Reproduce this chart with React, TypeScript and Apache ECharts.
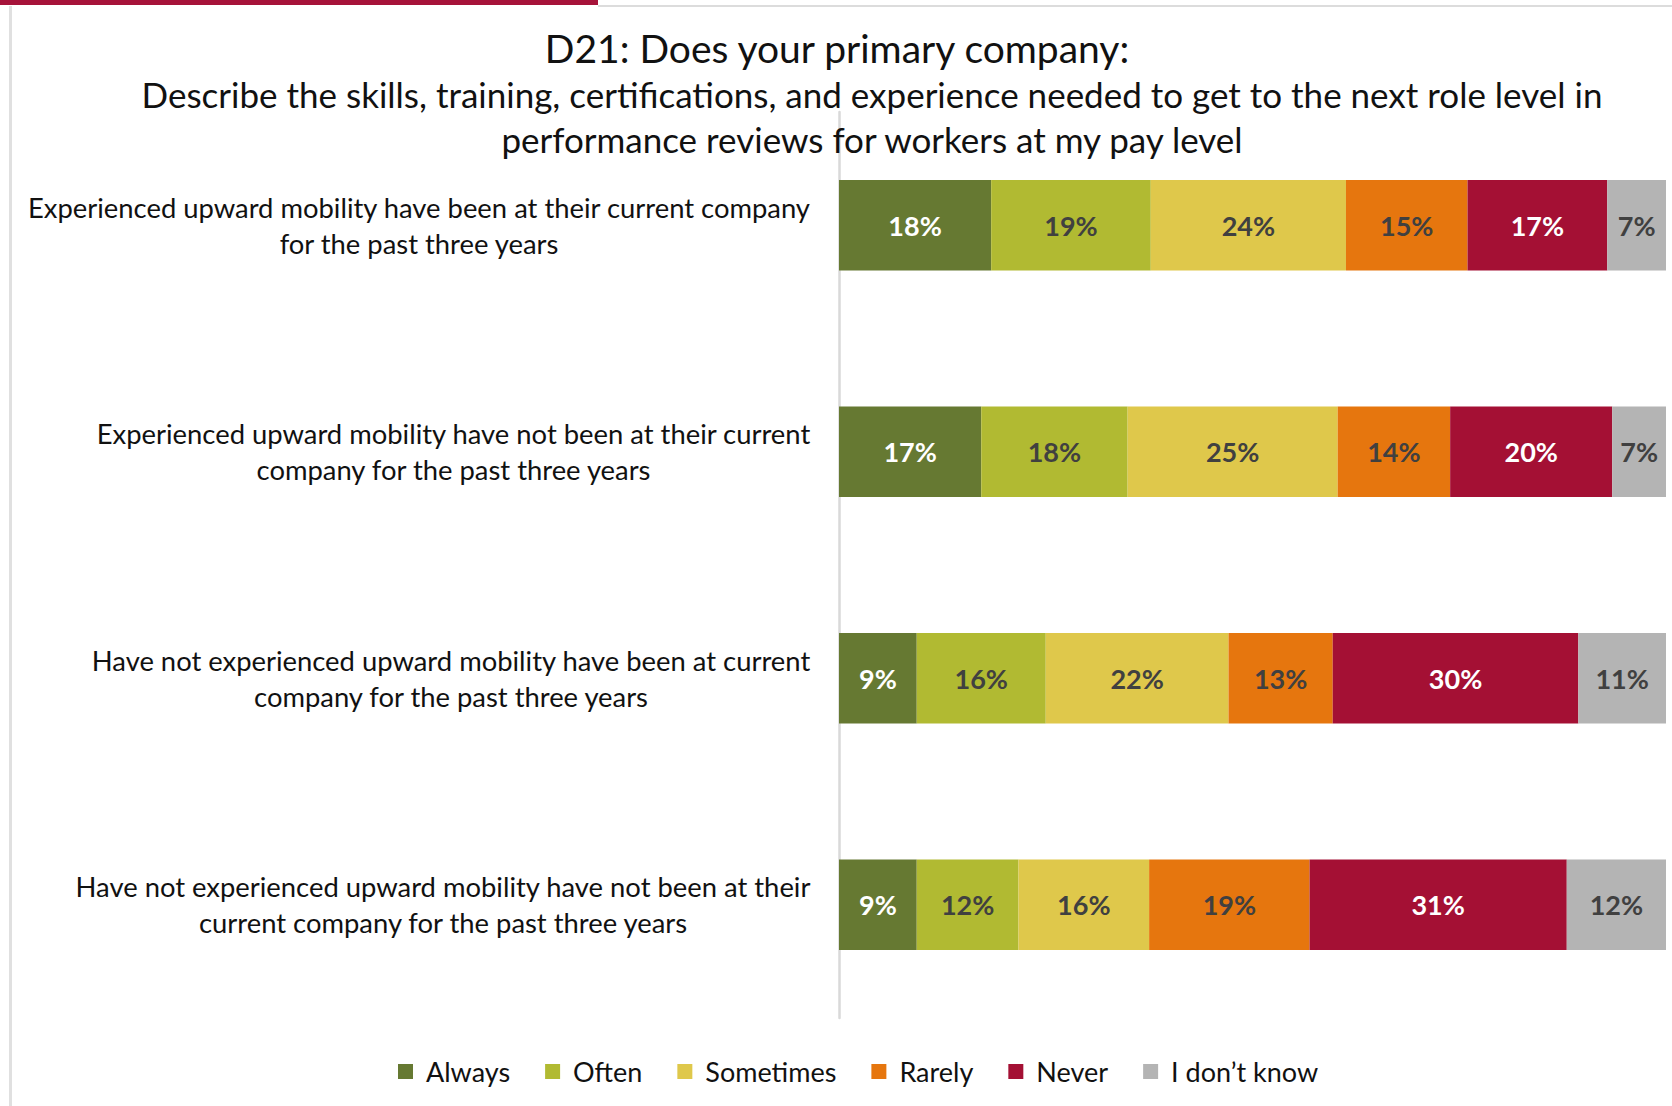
import React, { useEffect, useRef } from 'react';
import * as echarts from 'echarts';

const categories = [
  'Experienced upward mobility have been at their current company\nfor the past three years',
  'Experienced upward mobility have not been at their current\ncompany for the past three years',
  'Have not experienced upward mobility have been at current\ncompany for the past three years',
  'Have not experienced upward mobility have not been at their\ncurrent company for the past three years',
];
const seriesNames = ['Always', 'Often', 'Sometimes', 'Rarely', 'Never', 'I don\u2019t know'];
const always = [18.4, 17.2, 9.4, 9.4];
const often = [19.3, 17.7, 15.6, 12.3];
const sometimes = [23.6, 25.4, 22.1, 15.8];
const rarely = [14.7, 13.6, 12.6, 19.4];
const never = [16.9, 19.6, 29.7, 31.1];
const dontKnow = [7.1, 6.5, 10.6, 12.0];
const seriesValues = [always, often, sometimes, rarely, never, dontKnow];

const colors = ['#667932', '#B1BA32', '#DFC84B', '#E6760E', '#A41034', '#B4B4B4'];
const labelColors = ['#ffffff', '#404040', '#404040', '#404040', '#ffffff', '#404040'];

const titleText = 'D21: Does your primary company:';
const subtitleText =
  'Describe the skills, training, certifications, and experience needed to get to the next role level in\nperformance reviews for workers at my pay level';

export default function App() {
  const ref = useRef<HTMLDivElement>(null);
  useEffect(() => {
    document.body.style.margin = '0';
    const chart = echarts.init(ref.current!, null, { renderer: 'svg' });
    const fontFamily = 'Lato';
    const catFont = 27.4;
    const ctx = document.createElement('canvas').getContext('2d')!;
    ctx.font = `${catFont}px ${fontFamily}`;
    const rich: any = {};
    categories.forEach((c, i) => {
      const w = Math.max(...c.split('\n').map((l) => ctx.measureText(l).width));
      rich['c' + i] = {
        width: Math.ceil(w) + 2,
        align: 'center',
        fontSize: catFont,
        fontFamily,
        color: '#111111',
        lineHeight: 36,
      };
    });

    chart.setOption({
      animation: false,
      backgroundColor: '#ffffff',
      title: [
        {
          text: titleText,
          left: 837,
          top: 26,
          textAlign: 'center',
          padding: 0,
          textStyle: { fontFamily, fontSize: 39, fontWeight: 'normal', color: '#111111', lineHeight: 44 },
        },
        {
          text: subtitleText,
          left: 872,
          top: 71,
          textAlign: 'center',
          padding: 0,
          textStyle: { fontFamily, fontSize: 35, fontWeight: 'normal', color: '#111111', lineHeight: 45 },
        },
      ],
      graphic: [
        { type: 'rect', shape: { x: 0, y: 0, width: 598, height: 5 }, style: { fill: '#A6133A' }, z: 10 },
        { type: 'rect', shape: { x: 598, y: 5, width: 1074, height: 2 }, style: { fill: '#dcdcdc' }, z: 10 },
        { type: 'rect', shape: { x: 9, y: 6, width: 3, height: 1100 }, style: { fill: '#e0e0e0' }, z: 10 },
      ],
      legend: {
        left: 398,
        top: 1058,
        padding: 0,
        icon: 'rect',
        itemWidth: 15,
        itemHeight: 15,
        itemGap: 35,
        textStyle: { fontFamily, fontSize: 27, color: '#111111', padding: [0, 0, 0, 8] },
        data: seriesNames,
      },
      grid: { left: 839, right: 6, top: 112, bottom: 88, containLabel: false },
      xAxis: { type: 'value', min: 0, max: 100, show: false },
      yAxis: {
        type: 'category',
        inverse: true,
        data: categories,
        axisLine: { show: true, lineStyle: { color: '#d9d9d9', width: 2.5 } },
        axisTick: { show: false },
        axisLabel: {
          margin: 27,
          align: 'right',
          formatter: (value: string, index: number) =>
            value
              .split('\n')
              .map((l) => `{c${index}|${l}}`)
              .join('\n'),
          rich,
        },
      },
      series: seriesNames.map((name, i) => ({
        name,
        type: 'bar',
        stack: 'total',
        barCategoryGap: '60%',
        data: seriesValues[i],
        itemStyle: { color: colors[i] },
        label: {
          show: true,
          position: 'inside',
          formatter: (p: any) => Math.round(p.value) + '%',
          fontFamily,
          fontSize: 27,
          fontWeight: 'bold',
          color: labelColors[i],
        },
      })),
    });
    return () => chart.dispose();
  }, []);
  return <div ref={ref} style={{ width: 1672, height: 1106 }} />;
}
